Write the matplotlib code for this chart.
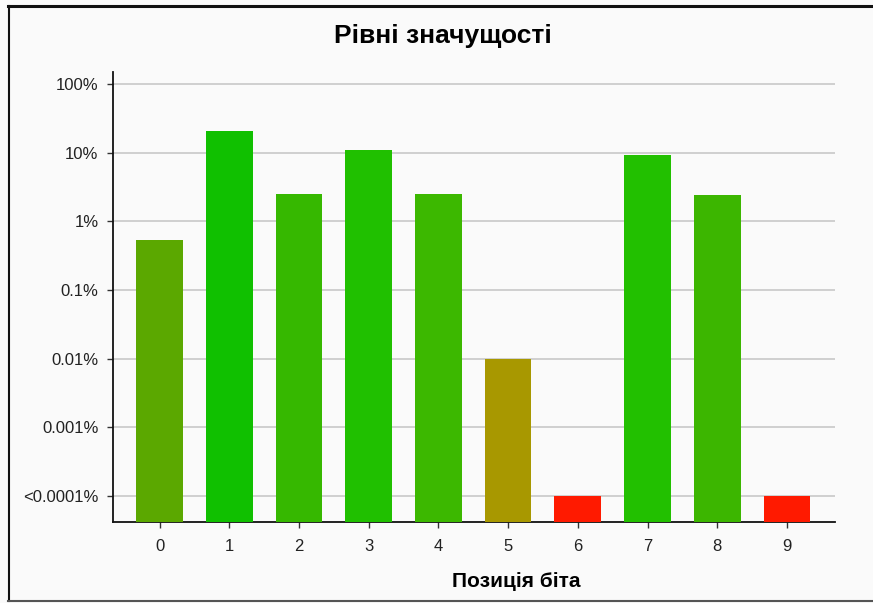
import matplotlib.pyplot as plt
from matplotlib.lines import Line2D

plt.rcParams['font.family'] = ['Liberation Sans', 'DejaVu Sans']

# data (significance level, %)
bits = [0, 1, 2, 3, 4, 5, 6, 7, 8, 9]
levels = [0.53, 20.5, 2.55, 11.0, 2.55, 0.01, 0.0001, 9.3, 2.4, 0.0001]
colors = ['#5ba800', '#10c000', '#36b800', '#20c000', '#3cb800',
          '#a89800', '#ff1a00', '#22c000', '#3cb600', '#ff1a00']
ytick_vals = [100, 10, 1, 0.1, 0.01, 0.001, 0.0001]
ytick_labels = ['100%', '10%', '1%', '0.1%', '0.01%', '0.001%', '<0.0001%']

bg = '#fafafa'
ymin, ymax = 4.2e-5, 150

fig = plt.figure(figsize=(8.73, 6.03), dpi=100, facecolor=bg)
ax = fig.add_axes([0.1294, 0.1343, 0.8271, 0.7463])
ax.set_facecolor(bg)

ax.set_yscale('log')
ax.set_ylim(ymin, ymax)
ax.set_xlim(-0.67, 9.69)

ax.bar(bits, [v - ymin for v in levels], bottom=ymin, width=0.67,
       color=colors, zorder=3)

ax.set_yticks(ytick_vals)
ax.set_yticklabels(ytick_labels)
ax.yaxis.set_minor_locator(plt.NullLocator())
ax.set_xticks(bits)
ax.set_xticklabels([str(b) for b in bits])
ax.grid(axis='y', color='#c8c8c8', linewidth=1.2, zorder=0)

for s in ['top', 'right']:
    ax.spines[s].set_visible(False)
for s in ['left', 'bottom']:
    ax.spines[s].set_color('#111111')
    ax.spines[s].set_linewidth(1.3)

ax.tick_params(axis='both', length=4.5, width=1, color='#333333',
               labelsize=12, labelcolor='#222222')
ax.tick_params(axis='y', pad=6)
ax.tick_params(axis='x', pad=8)

ax.set_xlabel('Позиція біта', fontsize=15, fontweight='bold')
ax.xaxis.set_label_coords(0.558, -0.112)
fig.text(0.507, 0.941, 'Рівні значущості', ha='center', va='center',
         fontsize=19, fontweight='bold')

# outer frame
fig.add_artist(Line2D([0.009, 1.0], [0.990, 0.990], color='#111111', lw=2.2))
fig.add_artist(Line2D([0.010, 0.010], [0.003, 0.990], color='#111111', lw=1.5))
fig.add_artist(Line2D([0.009, 1.0], [0.003, 0.003], color='#555555', lw=1.5))

fig.savefig('out.png', dpi=100, facecolor=bg)
